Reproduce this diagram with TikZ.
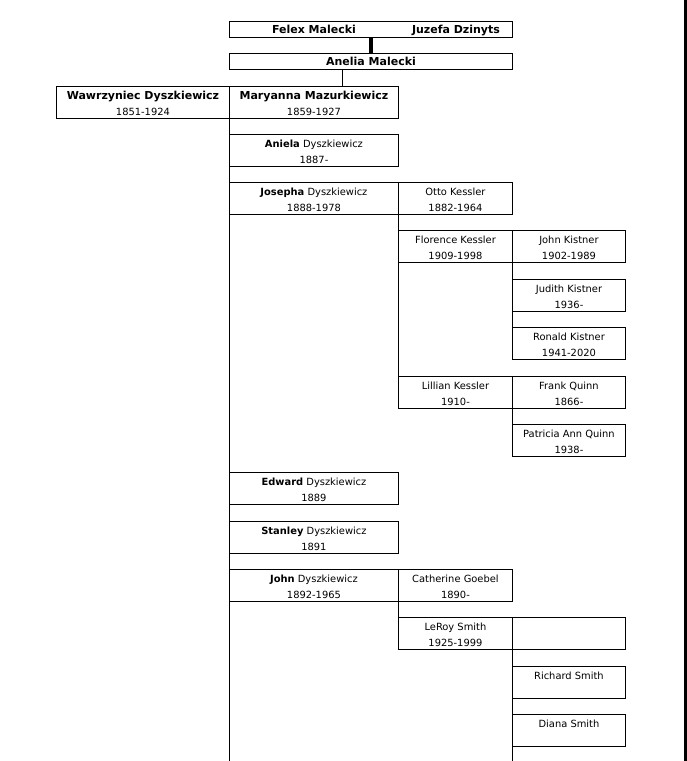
\documentclass[tikz,border=0pt]{standalone}
\usepackage{fontspec}
\setmainfont{DejaVu Sans}
\newcommand\lineA{\rule{0pt}{13pt}}
\newcommand\lineB{\rule[-3pt]{0pt}{3pt}}
\newcommand\pp[2]{\lineA#1\\\lineB#2}
\newcommand\bb[1]{{\fontsize{11}{16}\selectfont\bfseries #1}}
\begin{document}
\begin{tikzpicture}[x=1pt,y=-1pt,
  box/.style={draw, line width=0.9pt, rectangle, anchor=north west, inner sep=0pt,
    minimum height=32pt, align=center, font=\fontsize{9.9}{16}\selectfont},
  wA/.style={minimum width=173pt},
  wB/.style={minimum width=169pt},
  wC/.style={minimum width=114pt},
  wD/.style={minimum width=113pt},
  link/.style={line width=0.9pt},
  big/.style={font=\fontsize{11}{16}\selectfont\bfseries}]
\useasboundingbox (0,0) rectangle (687,761);
\fill (684,0) rectangle (687,761);
% grandparents
\node[box, minimum width=283pt, minimum height=16pt] (parents) at (229,21) {};
\node[anchor=base, big, inner sep=0pt] (felex) at (314,33) {Felex Malecki};
\node[anchor=base, big, inner sep=0pt] (juzefa) at (456,33) {Juzefa Dzinyts};
\node[box, minimum width=283pt, minimum height=16pt, big] (anelia) at (229,53) {Anelia Malecki};
\draw[line width=4pt] (parents.south) -- (anelia.north);
% couple
\node[box, wA] (wawr) at (56,86) {\pp{\bb{Wawrzyniec Dyszkiewicz}}{1851-1924}};
\node[box, wB] (mary) at (229,86) {\pp{\bb{Maryanna Mazurkiewicz}}{1859-1927}};
\draw[link] (anelia.south) ++(-29,0) coordinate (aj) -- (aj |- mary.north);
% children
\node[box, wB] (aniela) at (229,134) {\pp{\textbf{Aniela} Dyszkiewicz}{1887-}};
\node[box, wB] (josepha) at (229,182) {\pp{\textbf{Josepha} Dyszkiewicz}{1888-1978}};
\node[box, wC] (otto) at (398,182) {\pp{Otto Kessler}{1882-1964}};
\node[box, wC] (florence) at (398,230) {\pp{Florence Kessler}{1909-1998}};
\node[box, wD] (jkistner) at (512,230) {\pp{John Kistner}{1902-1989}};
\node[box, wD] (judith) at (512,279) {\pp{Judith Kistner}{1936-}};
\node[box, wD] (ronald) at (512,327) {\pp{Ronald Kistner}{1941-2020}};
\node[box, wC] (lillian) at (398,376) {\pp{Lillian Kessler}{1910-}};
\node[box, wD] (frank) at (512,376) {\pp{Frank Quinn}{1866-}};
\node[box, wD] (patricia) at (512,424) {\pp{Patricia Ann Quinn}{1938-}};
\node[box, wB] (edward) at (229,472) {\pp{\textbf{Edward} Dyszkiewicz}{1889}};
\node[box, wB] (stanley) at (229,521) {\pp{\textbf{Stanley} Dyszkiewicz}{1891}};
\node[box, wB] (johnd) at (229,569) {\pp{\textbf{John} Dyszkiewicz}{1892-1965}};
\node[box, wC] (catherine) at (398,569) {\pp{Catherine Goebel}{1890-}};
\node[box, wC] (leroy) at (398,617) {\pp{LeRoy Smith}{1925-1999}};
\node[box, wD] (leroysp) at (512,617) {};
\node[box, wD] (richard) at (512,666) {\pp{Richard Smith}{}};
\node[box, wD] (diana) at (512,714) {\pp{Diana Smith}{}};
% connectors
\coordinate (endA) at (229,761);
\coordinate (endB) at (512,761);
\draw[link] (mary.south west) -- (endA);
\draw[link] (otto.south west) -- (lillian.south west);
\draw[link] (jkistner.south west) -- (ronald.south west);
\draw[link] (frank.south west) -- (patricia.south west);
\draw[link] (catherine.south west) -- (leroy.south west);
\draw[link] (leroysp.south west) -- (endB);
\end{tikzpicture}
\end{document}
